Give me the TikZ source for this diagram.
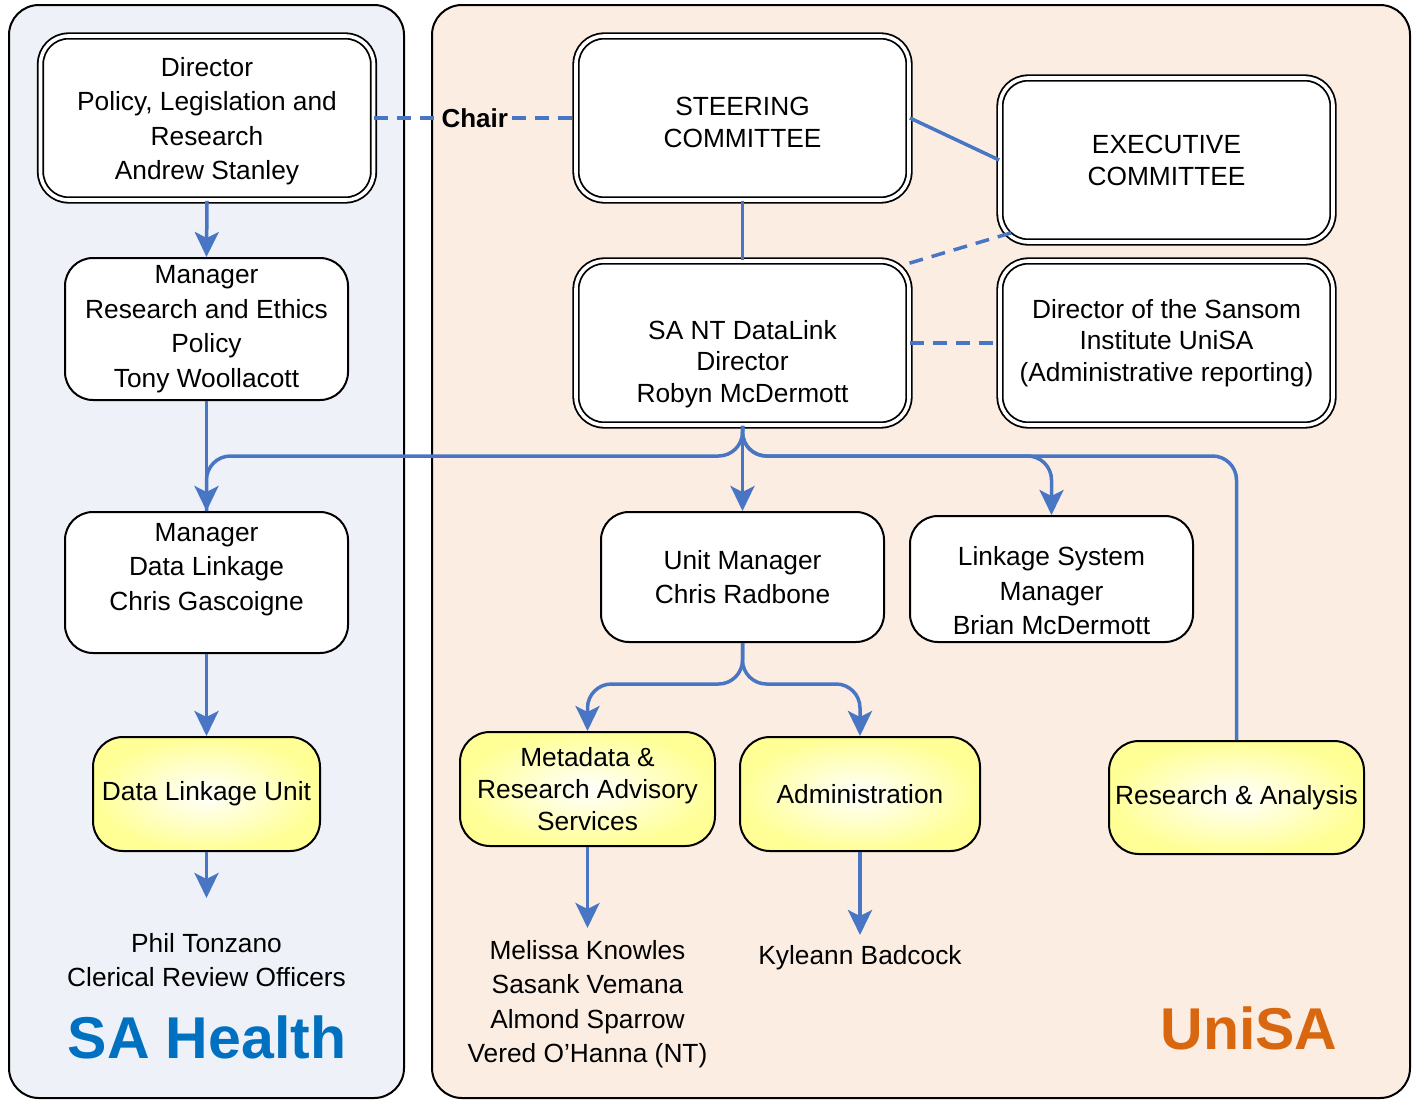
\documentclass[tikz,border=0pt]{standalone}
\usepackage{fontspec}
\setmainfont{Liberation Sans}
\usetikzlibrary{arrows.meta,calc}
\definecolor{lnblue}{RGB}{72,118,196}
\definecolor{lpanel}{RGB}{238,241,247}
\definecolor{rpanel}{RGB}{252,237,227}
\definecolor{yel}{RGB}{255,255,150}
\definecolor{sablue}{RGB}{0,112,192}
\definecolor{uniorange}{RGB}{217,103,15}
\begin{document}
\begin{tikzpicture}[x=1pt,y=-1pt,
  txt/.style={font=\fontsize{26.3}{34.5}\selectfont, align=center, inner sep=0pt},
  tight/.style={font=\fontsize{26.3}{31.5}\selectfont},
  mid/.style={font=\fontsize{26.3}{32}\selectfont},
  panel/.style={draw=black, line width=2pt, rounded corners=30pt},
  dbox/.style={txt, draw=black, line width=1.8pt, double=white, double distance=3.6pt,
    fill=white, rounded corners=28pt, minimum width=333pt, minimum height=164pt},
  sbox/.style={txt, draw=black, line width=2pt, fill=white, rounded corners=28pt, minimum width=283pt},
  ybox/.style={txt, draw=black, line width=2pt, inner color=white, outer color=yel, rounded corners=30pt},
  conn/.style={draw=lnblue, line width=3.5pt},
  dsh/.style={dash pattern=on 14pt off 9pt},
  arr/.style={conn, -{Stealth[length=25pt,width=24pt,inset=6pt]}},
  big/.style={font=\fontsize{59}{66}\selectfont\bfseries, inner sep=0pt}
]
\useasboundingbox (0,0) rectangle (1412,1100);
% panels
\draw[panel, fill=lpanel] (9,5) rectangle (404,1098);
\draw[panel, fill=rpanel] (432,5) rectangle (1410,1098);

% double boxes
\node[dbox] (dir) at (207,118) {\mbox{}\\[-9pt]Director\\Policy, Legislation and\\Research\\Andrew Stanley};
\node[dbox, mid] (steer) at (742.5,118) {\mbox{}\\[-5pt]STEERING\\COMMITTEE};
\node[dbox, mid] (exec) at (1166.5,160) {EXECUTIVE\\COMMITTEE};
\node[dbox, tight] (dl) at (742.5,343) {\mbox{}\\[29pt]SA NT DataLink\\Director\\Robyn McDermott};
\node[dbox, tight] (sansom) at (1166.5,343) {Director of the Sansom\\Institute UniSA\\(Administrative reporting)};

% single boxes
\node[sbox, minimum height=142pt] (mre) at (206.5,329) {Manager\\Research and Ethics\\Policy\\Tony Woollacott};
\node[sbox, minimum height=141pt] (mdl) at (206.5,582.5) {Manager\\Data Linkage\\Chris Gascoigne\\[-3pt]\mbox{}};
\node[sbox, minimum height=130pt] (um) at (742.5,577) {Unit Manager\\Chris Radbone};
\node[sbox, minimum height=126pt] (lsm) at (1051.5,579) {\mbox{}\\[8pt]Linkage System\\Manager\\Brian McDermott};

% yellow boxes
\node[ybox, minimum width=227pt, minimum height=114pt] (dlu) at (206.5,794) {Data Linkage Unit};
\node[ybox, mid, minimum width=255pt, minimum height=114pt] (meta) at (587.5,789) {Metadata \&\\Research Advisory\\Services};
\node[ybox, minimum width=240pt, minimum height=114pt] (admin) at (860,794) {Administration};
\node[ybox, minimum width=255pt, minimum height=113pt] (ra) at (1236.5,797.5) {Research \& Analysis};

% free texts
\node[txt] (phil) at (206.5,960) {Phil Tonzano\\Clerical Review Officers};
\node[txt] (names) at (587.5,1004) {Melissa Knowles\\Sasank Vemana\\Almond Sparrow\\Vered O’Hanna (NT)};
\node[txt] (kyle) at (860,957.5) {Kyleann Badcock};
\node[big, text=sablue] (sahealth) at (207,1037) {SA Health};
\node[big, text=uniorange] (unisa) at (1249,1028.5) {UniSA};

% coordinates
\coordinate (busL) at (742.5,456);
\coordinate (busU) at (742.5,684);
\coordinate (phila) at (206.5,898);
\coordinate (namesa) at (587.5,928);
\coordinate (kylea) at (860,935);
\coordinate (exc) at ($(exec.south west)+(12,-10)$);
\coordinate (dlc) at ($(dl.north east)+(-7,5)$);

% connectors
\draw[conn, dsh] (dir.east) -- node[fill=rpanel, inner sep=4pt, text=black,
   font=\fontsize{26}{30}\selectfont\bfseries] (chair) {Chair} (steer.west);
\draw[conn] (steer.east) -- (exec.west);
\draw[conn] (steer.south) -- (dl.north);
\draw[conn, dsh] (exc) -- (dlc);
\draw[conn, dsh] (dl.east) -- (sansom.west);

\draw[arr] (dir.south) -- (mre.north);
\draw[conn, rounded corners=24pt] (dl.south) -- (busL) -| (mdl.north);
\draw[arr] (mre.south) -- (mdl.north);
\draw[arr] (dl.south) -- (um.north);
\draw[arr, rounded corners=24pt] (dl.south) -- (busL) -| (lsm.north);
\draw[conn, rounded corners=24pt] (dl.south) -- (busL) -| (ra.north);
\draw[arr] (mdl.south) -- (dlu.north);
\draw[arr] (dlu.south) -- (phila);
\draw[arr, rounded corners=24pt] (um.south) -- (busU) -| (meta.north);
\draw[arr, rounded corners=24pt] (um.south) -- (busU) -| (admin.north);
\draw[arr] (meta.south) -- (namesa);
\draw[arr] (admin.south) -- (kylea);
\end{tikzpicture}
\end{document}
